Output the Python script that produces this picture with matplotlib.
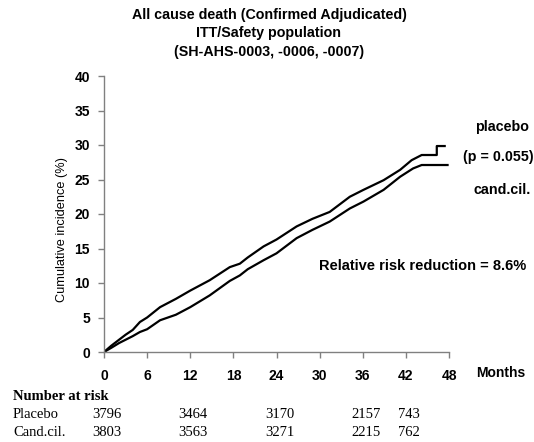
import matplotlib
matplotlib.use("Agg")
import matplotlib.pyplot as plt
import matplotlib.transforms as mtransforms

# Cumulative incidence curves (months, %)
placebo_months = [0, 1, 2, 3, 4, 5, 6, 7.8, 10, 12, 14.7, 17.5, 18.9, 20, 22.2, 24, 26.8, 29,
                  31.4, 34.2, 36.1, 38.9, 41.2, 42.8, 44.2, 46.3, 46.3, 47.4]
placebo_pct = [0, 0.9, 1.7, 2.5, 3.2, 4.35, 5.0, 6.5, 7.7, 8.9, 10.4, 12.3, 12.8, 13.7, 15.3, 16.3,
               18.2, 19.3, 20.3, 22.5, 23.5, 24.9, 26.4, 27.8, 28.55, 28.55, 29.85, 29.85]

candcil_months = [0, 1, 2.1, 4, 5, 6, 7.8, 10, 12, 14.7, 17.5, 18.9, 20, 22.2, 24, 26.8, 29,
                  31.4, 34.2, 36.1, 38.9, 41.2, 43, 44.2, 47.8]
candcil_pct = [0, 0.6, 1.3, 2.3, 2.9, 3.3, 4.6, 5.4, 6.5, 8.2, 10.3, 11.1, 12.0, 13.3, 14.3, 16.5,
               17.7, 18.9, 20.8, 21.8, 23.5, 25.4, 26.6, 27.1, 27.1]

# Number at risk table
risk_months = [0, 12, 24, 36, 42]
risk_placebo = [3796, 3464, 3170, 2157, 743]
risk_candcil = [3803, 3563, 3271, 2215, 762]

title_lines = ["All cause death (Confirmed Adjudicated)",
               "ITT/Safety population",
               "(SH-AHS-0003, -0006, -0007)"]

W, H = 534, 442
fig = plt.figure(figsize=(W / 100, H / 100), dpi=100)
ax = fig.add_axes([104 / W, 1 - 352 / H, 345 / W, 276 / H])

sans = "Liberation Sans"
serif = "Liberation Serif"


def px(x, y):
    return x / W, 1 - y / H


ax.plot(placebo_months, placebo_pct, color="black", lw=1.6)
ax.plot(candcil_months, candcil_pct, color="black", lw=1.6)

ax.set_xlim(0, 48)
ax.set_ylim(0, 40)
ax.set_xticks(range(0, 49, 6))
ax.set_yticks(range(0, 41, 5))
for s in ("top", "right"):
    ax.spines[s].set_visible(False)
for s in ("left", "bottom"):
    ax.spines[s].set_color("#808080")
    ax.spines[s].set_linewidth(1.0)
ax.tick_params(axis="both", color="#808080", length=4, width=1.0)
ax.tick_params(axis="x", pad=8)
ax.tick_params(axis="y", pad=6)
for lab in ax.get_xticklabels() + ax.get_yticklabels():
    lab.set_fontfamily(sans)
    lab.set_fontweight("bold")
    lab.set_fontsize(10)

fig.text(*px(62, 230), "Cumulative incidence (%)", rotation=90, ha="center", va="center",
         fontfamily=sans, fontsize=9.2)

# title block
for i, line in enumerate(title_lines):
    fig.text(*px(269, 15 + i * 18.5), line, ha="center", va="center",
             fontfamily=sans, fontweight="bold", fontsize=10.3)

fig.text(*px(476, 373), "Months", ha="left", va="center",
         fontfamily=sans, fontweight="bold", fontsize=10)

# annotations on the right
fig.text(*px(475, 127), "placebo", ha="left", va="center",
         fontfamily=sans, fontweight="bold", fontsize=10.3)
fig.text(*px(463, 157), "(p = 0.055)", ha="left", va="center",
         fontfamily=sans, fontweight="bold", fontsize=10.3)
fig.text(*px(473, 190), "cand.cil.", ha="left", va="center",
         fontfamily=sans, fontweight="bold", fontsize=10.3)
fig.text(*px(319, 266), "Relative risk reduction = 8.6%", ha="left", va="center",
         fontfamily=sans, fontweight="bold", fontsize=10.5)

# number at risk
fig.text(*px(13, 397), "Number at risk", ha="left", va="center",
         fontfamily=serif, fontweight="bold", fontsize=10.5)
fig.text(*px(13, 414), "Placebo", ha="left", va="center", fontfamily=serif, fontsize=10.5)
fig.text(*px(13, 432), "Cand.cil.", ha="left", va="center", fontfamily=serif, fontsize=10.5)

trans = mtransforms.blended_transform_factory(ax.transData, fig.transFigure)
for m, a, b in zip(risk_months, risk_placebo, risk_candcil):
    ax.text(m + 0.4, 1 - 414 / H, str(a), transform=trans, ha="center", va="center",
            fontfamily=serif, fontsize=10.5, clip_on=False)
    ax.text(m + 0.4, 1 - 432 / H, str(b), transform=trans, ha="center", va="center",
            fontfamily=serif, fontsize=10.5, clip_on=False)

fig.savefig("out.png", dpi=100)
